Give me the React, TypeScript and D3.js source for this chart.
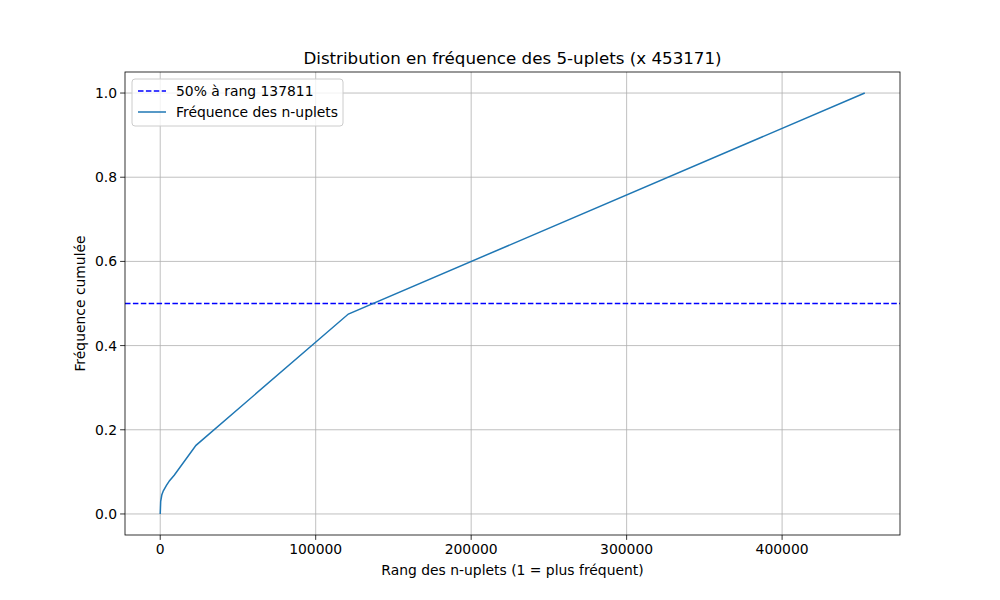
import React from "react";
import * as d3 from "d3";

const rangs = [0, 300, 1000, 2000, 4000, 6000, 9000, 23000, 121000, 453171];
const freqs = [0, 0.03, 0.045, 0.055, 0.068, 0.079, 0.092, 0.163, 0.475, 1.0];
const xTicks = [0, 100000, 200000, 300000, 400000];
const yTicks = [0, 0.2, 0.4, 0.6, 0.8, 1.0];
const seuil = 0.5;
const titre = "Distribution en fréquence des 5-uplets (x 453171)";

export default function App() {
  const W = 1000, H = 600, L = 125, R = 900, T = 72, B = 535;
  const x = d3.scaleLinear().domain([-22658, 475829]).range([L, R]);
  const y = d3.scaleLinear().domain([-0.05, 1.05]).range([B, T]);
  const pts = rangs.map((r, i) => [r, freqs[i]] as [number, number]);
  const line = d3.line<[number, number]>().x(d => x(d[0])).y(d => y(d[1]));
  const font = "DejaVu Sans, sans-serif";
  return (
    <svg width={W} height={H} style={{ position: "absolute", left: 0, top: 0, background: "#fff" }} fontFamily={font}>
      <rect x={0} y={0} width={W} height={H} fill="#fff" />
      {xTicks.map(t => <line key={"gx" + t} x1={x(t)} x2={x(t)} y1={T} y2={B} stroke="#b0b0b0" strokeWidth={0.8} />)}
      {yTicks.map(t => <line key={"gy" + t} x1={L} x2={R} y1={y(t)} y2={y(t)} stroke="#b0b0b0" strokeWidth={0.8} />)}
      <line x1={L} x2={R} y1={y(seuil)} y2={y(seuil)} stroke="blue" strokeWidth={1.5} strokeDasharray="5.5,2.4" />
      <path d={line(pts) || ""} fill="none" stroke="#1f77b4" strokeWidth={1.5} />
      <rect x={L} y={T} width={R - L} height={B - T} fill="none" stroke="#000" strokeWidth={0.8} />
      {xTicks.map(t => (
        <g key={"tx" + t}>
          <line x1={x(t)} x2={x(t)} y1={B} y2={B + 4.9} stroke="#000" strokeWidth={0.8} />
          <text x={x(t)} y={B + 19} textAnchor="middle" fontSize={13.9}>{t}</text>
        </g>
      ))}
      {yTicks.map(t => (
        <g key={"ty" + t}>
          <line x1={L - 4.9} x2={L} y1={y(t)} y2={y(t)} stroke="#000" strokeWidth={0.8} />
          <text x={L - 8} y={y(t) + 5} textAnchor="end" fontSize={13.9}>{t.toFixed(1)}</text>
        </g>
      ))}
      <text x={(L + R) / 2} y={575} textAnchor="middle" fontSize={13.9}>Rang des n-uplets (1 = plus fréquent)</text>
      <text transform={`translate(85,${(T + B) / 2}) rotate(-90)`} textAnchor="middle" fontSize={13.9}>Fréquence cumulée</text>
      <text x={(L + R) / 2} y={64} textAnchor="middle" fontSize={16.7}>{titre}</text>
      <g>
        <rect x={132} y={79} width={211} height={47} rx={3} fill="#fff" fillOpacity={0.8} stroke="#ccc" />
        <line x1={138} x2={166} y1={91} y2={91} stroke="blue" strokeWidth={1.5} strokeDasharray="5.5,2.4" />
        <text x={176} y={96} fontSize={13.9}>50% à rang 137811</text>
        <line x1={138} x2={166} y1={112} y2={112} stroke="#1f77b4" strokeWidth={1.5} />
        <text x={176} y={117} fontSize={13.9}>Fréquence des n-uplets</text>
      </g>
    </svg>
  );
}
